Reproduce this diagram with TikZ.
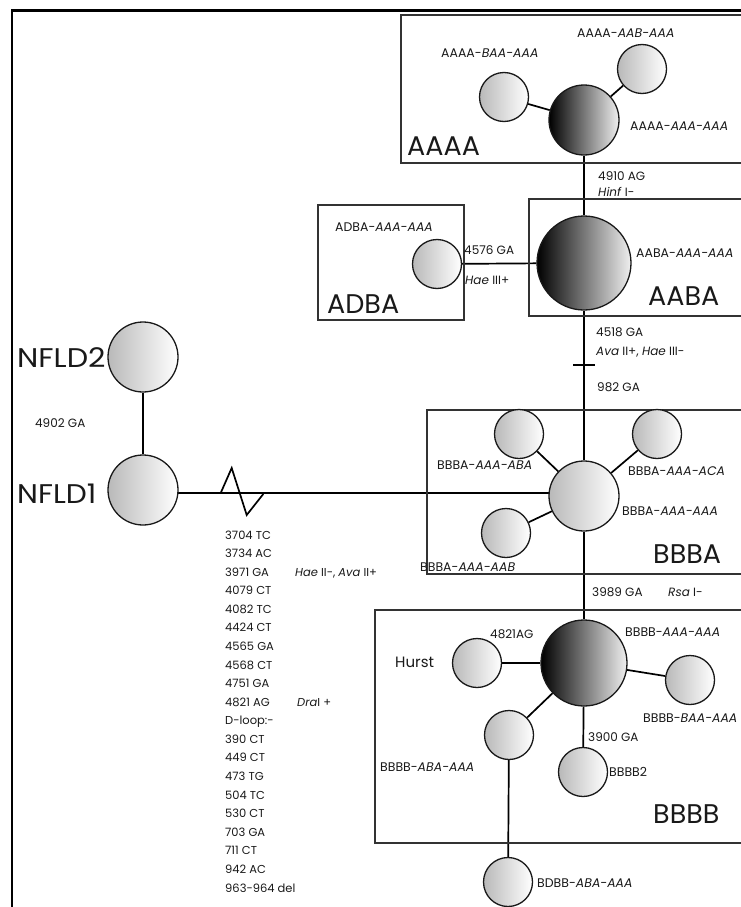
\documentclass[tikz,border=0pt]{standalone}
\usepackage{fontspec}
\setmainfont{Poppins}
\usetikzlibrary{backgrounds}
\begin{document}
\begin{tikzpicture}[x=1pt,y=-1pt,
  lab/.style={anchor=west, inner sep=0pt, font=\fontsize{12}{14}\selectfont, text=black!90},
  hlab/.style={lab, font=\fontsize{12.5}{14}\selectfont},
  biglab/.style={anchor=base west, inner sep=0pt, font=\fontsize{27}{30}\selectfont, text=black!90},
  hap/.style={circle, draw=black!90, line width=1.3pt, inner sep=0pt, minimum size=49pt, left color=gray!55, right color=white},
  darkhap/.style={hap, left color=black, right color=gray!12},
  conn/.style={line width=1.7pt},
  grp/.style={draw=black!80, line width=1.1pt}]
\useasboundingbox (0,0) rectangle (741,907);
% frame
\draw[line width=2.6pt] (12,907) -- (12,10.5) -- (741,10.5);
% group boxes
\draw[grp] (401,15) rectangle (760,163);
\draw[grp] (529,199) rectangle (760,316);
\draw[grp] (318,205) rectangle (464,320);
\draw[grp] (427,410) rectangle (760,574);
\draw[grp] (375,610) rectangle (760,843);
% haplotype circles
\node[darkhap, minimum size=70pt] (aaaa) at (584,120) {};
\node[hap] (aaaa1) at (504,97) {};
\node[hap] (aaaa2) at (642,69) {};
\node[darkhap, minimum size=94pt] (aaba) at (584,263) {};
\node[hap] (adba) at (437,264) {};
\node[hap, minimum size=70pt] (bbba) at (584,496) {};
\node[hap] (bbba1) at (519,434) {};
\node[hap] (bbba2) at (657,434) {};
\node[hap] (bbba3) at (506,533) {};
\node[darkhap, minimum size=86pt] (bbbb) at (584,663) {};
\node[hap] (hurst) at (477,663) {};
\node[hap] (bbbb1) at (690,680) {};
\node[hap] (bbbb2) at (509,735) {};
\node[hap] (bbbb3) at (583,772) {};
\node[hap] (bdbb) at (508,882) {};
\node[hap, minimum size=70pt] (nfld2) at (143,357) {};
\node[hap, minimum size=70pt] (nfld1) at (143,490) {};
\coordinate (nfa) at (143,493);
\coordinate (nfb) at (584,493);
% connectors
\begin{scope}[on background layer]
\draw[conn] (aaaa) -- (aaaa1);
\draw[conn] (aaaa) -- (aaaa2);
\draw[conn] (aaaa) -- (aaba);
\draw[conn] (adba) -- (aaba);
\draw[conn] (aaba) -- (bbba);
\draw[conn] (bbba) -- (bbba1);
\draw[conn] (bbba) -- (bbba2);
\draw[conn] (bbba) -- (bbba3);
\draw[conn] (bbba) -- (bbbb);
\draw[conn] (bbbb) -- (hurst);
\draw[conn] (bbbb) -- (bbbb1);
\draw[conn] (bbbb) -- (bbbb2);
\draw[conn] (bbbb) -- (bbbb3);
\draw[conn] (bbbb2) -- (bdbb);
\draw[conn] (nfld2) -- (nfld1);
\draw[conn] (nfa) -- (nfb);
\end{scope}
% break symbol
\draw[conn, line join=miter] (220.7,493) -- (231.7,468) -- (246.7,515) -- (263.3,494);
% tick mark
\draw[conn] (573,365) -- (595,365);
% group labels
\node[biglab] (tAAAA) at (407,155) {AAAA};
\node[biglab] (tAABA) at (648,305) {AABA};
\node[biglab] (tADBA) at (327,313) {ADBA};
\node[biglab] (tBBBA) at (653,563) {BBBA};
\node[biglab] (tBBBB) at (653,823) {BBBB};
\node[biglab] (tNF2) at (17,367) {\scalebox{1.12}[1]{NFLD2}};
\node[biglab] (tNF1) at (17,503) {\scalebox{1.1}[1]{NFLD1}};
% haplotype labels
\node[hlab] (l1) at (441,53) {AAAA-\textit{BAA-AAA}};
\node[hlab] (l2) at (577,33) {AAAA-\textit{AAB-AAA}};
\node[hlab] (l3) at (630,126) {AAAA-\textit{AAA-AAA}};
\node[hlab] (l4) at (335,227) {ADBA-\textit{AAA-AAA}};
\node[hlab] (l5) at (636,253) {AABA-\textit{AAA-AAA}};
\node[hlab] (l6) at (437,465) {BBBA-\textit{AAA-ABA}};
\node[hlab] (l7) at (628,471) {BBBA-\textit{AAA-ACA}};
\node[hlab] (l8) at (622,511) {BBBA-\textit{AAA-AAA}};
\node[hlab] (l9) at (420,567) {BBBA-\textit{AAA-AAB}};
\node[hlab] (l10) at (625,632) {BBBB-\textit{AAA-AAA}};
\node[hlab] (l11) at (643,718) {BBBB-\textit{BAA-AAA}};
\node[hlab] (l12) at (380,767) {BBBB-\textit{ABA-AAA}};
\node[hlab] (l13) at (609,772) {BBBB2};
\node[hlab] (l14) at (537,883) {BDBB-\textit{ABA-AAA}};
\node[lab, font=\fontsize{15}{17}\selectfont] (l15) at (395,662) {Hurst};
% mutation labels
\node[lab] (m1) at (598,176) {4910 AG};
\node[lab] (m2) at (598,192) {\textit{Hinf} I-};
\node[lab] (m3) at (464,250) {4576 GA};
\node[lab] (m4) at (465,280) {\textit{Hae} III+};
\node[lab] (m5) at (596,332) {4518 GA};
\node[lab] (m6) at (596,352) {\textit{Ava} II+, \textit{Hae} III-};
\node[lab] (m7) at (597,387) {982 GA};
\node[lab] (m8) at (35,423) {4902 GA};
\node[lab] (m9) at (592,592) {3989 GA};
\node[lab] (m10) at (668,592) {\textit{Rsa} I-};
\node[lab] (m11) at (490,634) {4821AG};
\node[lab] (m12) at (588,737) {3900 GA};
% mutation list
\foreach \t [count=\i] in {3704 TC, 3734 AC, {\makebox[70pt][l]{3971 GA}\textit{Hae} II-, \textit{Ava} II+}, 4079 CT, 4082 TC, 4424 CT, 4565 GA, 4568 CT, 4751 GA, {\makebox[72pt][l]{4821 AG}\textit{Dra}I +}, D-loop:-, 390 CT, 449 CT, 473 TG, 504 TC, 530 CT, 703 GA, 711 CT, 942 AC, 963-964 del}
  \node[lab, anchor=base west, font=\fontsize{11.5}{12}\selectfont] (list\i) at (225,{539+18.58*(\i-1)}) {\t};
\end{tikzpicture}
\end{document}
